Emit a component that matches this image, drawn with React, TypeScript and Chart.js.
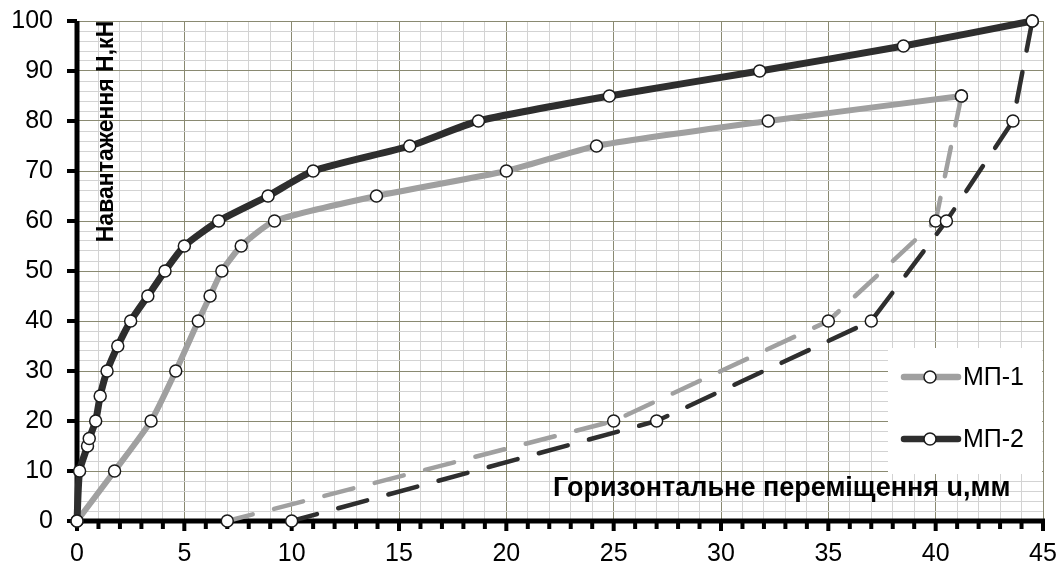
import React, { useEffect, useRef } from 'react';
import { Chart, registerables } from 'chart.js';

Chart.register(...registerables);

// ---- data ----
const mp1LoadX = [0, 1.75, 3.45, 4.6, 5.65, 6.2, 6.75, 7.65, 9.2, 13.95, 20, 24.2, 32.2, 41.2];
const mp1LoadY = [0, 10, 20, 30, 40, 45, 50, 55, 60, 65, 70, 75, 80, 85];
const mp1UnloadX = [41.2, 40, 35, 25, 7];
const mp1UnloadY = [85, 60, 40, 20, 0];

const mp2LoadX = [0, 0.12, 0.49, 0.57, 0.87, 1.08, 1.4, 1.9, 2.5, 3.3, 4.1, 5.0, 6.6, 8.9, 11, 15.5, 18.7, 24.8, 31.8, 38.5, 44.5];
const mp2LoadY = [0, 10, 15, 16.5, 20, 25, 30, 35, 40, 45, 50, 55, 60, 65, 70, 75, 80, 85, 90, 95, 100];
const mp2UnloadX = [44.5, 43.6, 40.5, 37, 27, 10];
const mp2UnloadY = [100, 80, 60, 40, 20, 0];

const seriesNames = ['МП-1', 'МП-2'];
const xTitle = 'Горизонтальне переміщення u,мм';
const yTitle = 'Навантаження Н,кН';
const xMin = 0, xMax = 45, xMinorStep = 1, xMajorStep = 5;
const yMin = 0, yMax = 100, yMinorStep = 2, yMajorStep = 10;

const FONT = '"Liberation Sans", Arial, Helvetica, sans-serif';
const C1 = '#a0a0a0';
const C2 = '#2e2e2e';
const MAJOR_GRID = '#8a8a72';
const MINOR_GRID = '#d3d3d3';

const toPts = (xs: number[], ys: number[]) => xs.map((x, i) => ({ x, y: ys[i] }));

const decorPlugin = {
  id: 'decor',
  beforeDatasetsDraw(chart: any) {
    const { ctx, chartArea: a, scales } = chart;
    const xs = scales.x, ys = scales.y;
    ctx.save();
    // axis titles
    ctx.fillStyle = '#000';
    ctx.font = `bold 27px ${FONT}`;
    ctx.textAlign = 'left';
    ctx.textBaseline = 'alphabetic';
    ctx.fillText(xTitle, 553, 496);
    ctx.save();
    ctx.translate(106.5, 131.5);
    ctx.rotate(-Math.PI / 2);
    ctx.font = `bold 23px ${FONT}`;
    ctx.textAlign = 'center';
    ctx.textBaseline = 'middle';
    ctx.fillText(yTitle, 0, 0);
    ctx.restore();

    // legend
    ctx.fillStyle = '#fff';
    ctx.fillRect(888, 348, 154, 126);
    const items = [
      { name: seriesNames[0], color: C1, y: 377 },
      { name: seriesNames[1], color: C2, y: 439 },
    ];
    for (const it of items) {
      ctx.strokeStyle = it.color;
      ctx.lineWidth = 6.5;
      ctx.lineCap = 'round';
      ctx.beginPath();
      ctx.moveTo(904, it.y);
      ctx.lineTo(958, it.y);
      ctx.stroke();
      ctx.beginPath();
      ctx.arc(930, it.y, 6, 0, Math.PI * 2);
      ctx.fillStyle = '#fff';
      ctx.fill();
      ctx.lineWidth = 1.5;
      ctx.strokeStyle = '#1a1a1a';
      ctx.stroke();
      ctx.fillStyle = '#000';
      ctx.font = `25px ${FONT}`;
      ctx.textAlign = 'left';
      ctx.textBaseline = 'middle';
      ctx.fillText(it.name, 963, it.y + 1);
    }

    // axes
    ctx.fillStyle = '#000';
    ctx.fillRect(a.left - 2.5, a.top, 5, a.bottom - a.top + 2.5);
    ctx.fillRect(a.left - 2.5, a.bottom - 2.5, a.right - a.left + 4.5, 5);
    for (let v = yMin; v <= yMax; v += yMajorStep) {
      const py = ys.getPixelForValue(v);
      ctx.fillRect(a.left - 10, py - 2, 10, 4);
    }
    for (let v = xMin; v <= xMax; v += xMinorStep) {
      const px = xs.getPixelForValue(v);
      const len = v % xMajorStep === 0 ? 10 : 8;
      ctx.fillRect(px - 2, a.bottom, 4, len);
    }
    ctx.restore();
  },
};

const pointOpts = {
  pointRadius: 6,
  pointHoverRadius: 6,
  pointBorderWidth: 1.5,
  pointBackgroundColor: '#ffffff',
  pointBorderColor: '#1a1a1a',
};

export default function App() {
  const ref = useRef<HTMLCanvasElement | null>(null);
  useEffect(() => {
    document.body.style.margin = '0';
    const canvas = ref.current!;
    const chart = new Chart(canvas, {
      type: 'line',
      data: {
        datasets: [
          {
            label: seriesNames[1] + ' unload',
            data: toPts(mp2UnloadX, mp2UnloadY),
            borderColor: C2,
            borderWidth: 4.5,
            borderDash: [30, 22],
            borderCapStyle: 'round',
            tension: 0,
            clip: 12,
            ...pointOpts,
          },
          {
            label: seriesNames[1],
            data: toPts(mp2LoadX, mp2LoadY),
            borderColor: C2,
            borderWidth: 7,
            borderJoinStyle: 'round',
            tension: 0.2,
            clip: 12,
            ...pointOpts,
          },
          {
            label: seriesNames[0] + ' unload',
            data: toPts(mp1UnloadX, mp1UnloadY),
            borderColor: C1,
            borderWidth: 4.5,
            borderDash: [30, 22],
            borderCapStyle: 'round',
            tension: 0,
            clip: 12,
            ...pointOpts,
          },
          {
            label: seriesNames[0],
            data: toPts(mp1LoadX, mp1LoadY),
            borderColor: C1,
            borderWidth: 6,
            borderJoinStyle: 'round',
            tension: 0.2,
            clip: 12,
            ...pointOpts,
          },
        ],
      },
      options: {
        responsive: false,
        animation: false,
        devicePixelRatio: 1,
        layout: { padding: { top: 21, right: 19, left: 0, bottom: 0 } },
        plugins: { legend: { display: false }, tooltip: { enabled: false } },
        scales: {
          x: {
            type: 'linear',
            min: xMin,
            max: xMax,
            afterFit: (s: any) => {
              s.height = 44;
              s.paddingLeft = 0; s.paddingRight = 0; s.paddingTop = 0; s.paddingBottom = 0;
            },
            ticks: {
              stepSize: xMinorStep,
              autoSkip: false,
              maxRotation: 0,
              padding: 18,
              color: '#000',
              font: { family: FONT, size: 25 },
              callback: (v: any) => (Number(v) % xMajorStep === 0 ? String(v) : ''),
            },
            grid: {
              drawTicks: false,
              lineWidth: 1,
              color: (c: any) => (c.tick && c.tick.value % xMajorStep === 0 ? MAJOR_GRID : MINOR_GRID),
            },
            border: { display: false },
          },
          y: {
            type: 'linear',
            min: yMin,
            max: yMax,
            afterFit: (s: any) => {
              s.width = 77;
              s.paddingLeft = 0; s.paddingRight = 0; s.paddingTop = 0; s.paddingBottom = 0;
            },
            ticks: {
              stepSize: yMinorStep,
              autoSkip: false,
              padding: 24,
              color: '#000',
              font: { family: FONT, size: 25 },
              callback: (v: any) => (Number(v) % yMajorStep === 0 ? String(v) : ''),
            },
            grid: {
              drawTicks: false,
              lineWidth: 1,
              color: (c: any) => (c.tick && c.tick.value % yMajorStep === 0 ? MAJOR_GRID : MINOR_GRID),
            },
            border: { display: false },
          },
        },
      },
      plugins: [decorPlugin],
    } as any);
    return () => chart.destroy();
  }, []);
  return (
    <div style={{ position: 'absolute', left: 0, top: 0, width: 1062, height: 565, background: '#fff' }}>
      <canvas ref={ref} width={1062} height={565} style={{ width: 1062, height: 565, display: 'block' }} />
    </div>
  );
}
